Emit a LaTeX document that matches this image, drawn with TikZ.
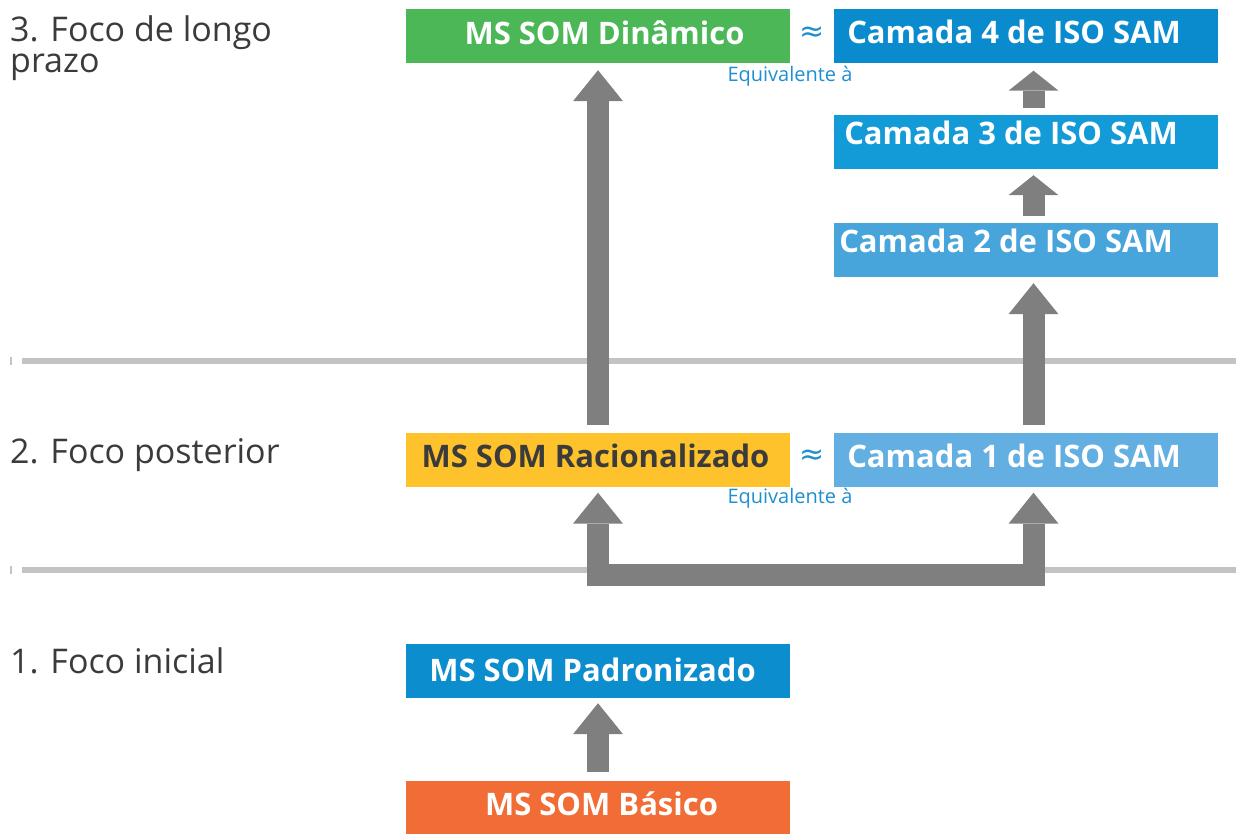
\documentclass[tikz,border=0pt]{standalone}
\usepackage{fontspec}
\setmainfont{Open Sans}
\newfontfamily\symfont{DejaVu Sans}
\usepackage{tikz}
\usetikzlibrary{arrows.meta,positioning}

\definecolor{somgreen}{HTML}{4BB757}
\definecolor{layerfour}{HTML}{0A8BCE}
\definecolor{layerthree}{HTML}{139BD8}
\definecolor{layertwo}{HTML}{47A5DC}
\definecolor{layerone}{HTML}{63AFE1}
\definecolor{somblue}{HTML}{0B8DCE}
\definecolor{somorange}{HTML}{F26C35}
\definecolor{somyellow}{HTML}{FEC22C}
\definecolor{arrowgray}{HTML}{7F7F80}
\definecolor{linegray}{HTML}{C3C3C3}
\definecolor{equivblue}{HTML}{1E8FD0}
\definecolor{labelgray}{HTML}{3B3B3B}

\tikzset{
  box/.style={rectangle, minimum width=384pt, minimum height=54pt, inner sep=0pt},
  boxtext/.style={anchor=base, inner sep=0pt, text=white, font=\bfseries\fontsize{31}{31}\selectfont},
  level/.style={anchor=base west, inner sep=0pt, align=left, text=labelgray, font=\fontsize{34}{31}\selectfont},
  equiv/.style={anchor=base, inner sep=0pt, text=equivblue, font=\fontsize{20}{20}\selectfont},
  approx/.style={inner sep=0pt, text=equivblue, font=\symfont\fontsize{30}{30}\selectfont},
  sepline/.style={draw=linegray, line width=6pt},
  bigarrow/.style={draw=arrowgray, line width=22pt, -{Triangle[width=50pt,length=31pt,line width=0pt]}},
  smallarrow/.style={draw=arrowgray, line width=22pt, -{Triangle[width=50pt,length=20pt,line width=0pt]}},
}

\begin{document}
\begin{tikzpicture}[x=1pt,y=-1pt]
\useasboundingbox (0,0) rectangle (1239,834);

% Level separators
\foreach \ly in {361,570} {
    \draw[sepline] (22,\ly) -- (1236,\ly);
    \draw[linegray, line width=1.5pt] (11,\ly-4) -- (11,\ly+4);
}

% Level labels
\node[level] (lvl3) at (10,73) {3. Foco de longo\\prazo};
\node[level] (lvl2) at (10,463) {2. Foco posterior};
\node[level] (lvl1) at (10,673) {1. Foco inicial};

% MS SOM boxes
\node[box, fill=somgreen] (din) at (598,36) {};
\node[boxtext] (din-t) at (604.5,45) {MS SOM Dinâmico};
\node[box, fill=somyellow] (rac) at (598,459.5) {};
\node[boxtext, text=labelgray] (rac-t) at (595.5,467) {MS SOM Racionalizado};
\node[box, fill=somblue] (pad) at (598,671) {};
\node[boxtext] (pad-t) at (592.5,681) {MS SOM Padronizado};
\node[box, fill=somorange] (bas) at (598,807.5) {};
\node[boxtext] (bas-t) at (601.5,815) {MS SOM Básico};

% ISO SAM layers
\node[box, fill=layerfour] (c4) at (1025.5,36.5) {};
\node[boxtext] (c4-t) at (1014,44) {Camada 4 de ISO SAM};
\node[box, fill=layerthree] (c3) at (1025.5,142) {};
\node[boxtext] (c3-t) at (1011,145) {Camada 3 de ISO SAM};
\node[box, fill=layertwo] (c2) at (1025.5,250) {};
\node[boxtext] (c2-t) at (1006,253) {Camada 2 de ISO SAM};
\node[box, fill=layerone] (c1) at (1025.5,459.5) {};
\node[boxtext] (c1-t) at (1014,467) {Camada 1 de ISO SAM};

% Equivalence marks
\node[approx] (eq4) at (812.5,34.5) {≈};
\node[equiv] (eq4-t) at (790,82) {Equivalente à};
\node[approx] (eq1) at (812.5,457.5) {≈};
\node[equiv] (eq1-t) at (790,503) {Equivalente à};

% Arrows
\coordinate (bar) at (0,574.5);
\draw[bigarrow, shorten <=7pt, shorten >=7pt] (rac.north) -- (rac.north |- din.south);
\draw[bigarrow, shorten <=7pt, shorten >=6pt] ([xshift=8pt]c1.north) -- ([xshift=8pt]c2.south);
\draw[smallarrow, shorten <=7pt, shorten >=6pt] ([xshift=8pt]c2.north) -- ([xshift=8pt]c3.south);
\draw[smallarrow, shorten <=7pt, shorten >=7pt] ([xshift=8pt]c3.north) -- ([xshift=8pt]c4.south);
\draw[bigarrow, shorten <=8pt, shorten >=5pt] (bas.north) -- (pad.south);
\draw[bigarrow, {Triangle[width=50pt,length=31pt,line width=0pt]}-{Triangle[width=50pt,length=31pt,line width=0pt]},
      line join=miter, shorten <=6pt, shorten >=6pt]
    (rac.south) -- (rac.south |- bar) -- ([xshift=8pt]c1.south |- bar) -- ([xshift=8pt]c1.south);
\end{tikzpicture}
\end{document}
